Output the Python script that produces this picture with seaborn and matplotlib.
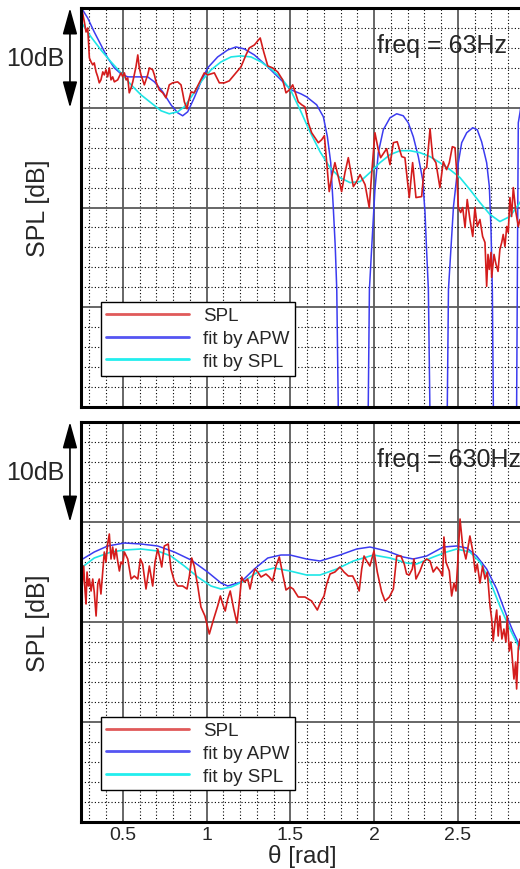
import matplotlib
matplotlib.use("Agg")
import matplotlib.pyplot as plt
from matplotlib.lines import Line2D
from matplotlib.ticker import MultipleLocator, FixedLocator, FixedFormatter
import seaborn as sns
import pandas as pd

# ---------------- data ----------------
xtick_values = [0.5, 1.0, 1.5, 2.0, 2.5]
xtick_labels = ["0.5", "1", "1.5", "2", "2.5"]
legend_labels = ["SPL", "fit by APW", "fit by SPL"]
panel_titles = ["freq = 63Hz", "freq = 630Hz"]

# 63 Hz : measured SPL
theta_spl_63 = [0.25, 0.256, 0.270, 0.280, 0.290, 0.300, 0.310, 0.320, 0.329, 0.340, 0.350, 0.359, 0.369, 0.380,
                0.389, 0.399, 0.409, 0.419, 0.429, 0.439, 0.449, 0.469, 0.489, 0.499, 0.509, 0.519, 0.529,
                0.538, 0.549, 0.559, 0.568, 0.578, 0.589, 0.598, 0.608, 0.618, 0.628, 0.638, 0.648, 0.658,
                0.678, 0.688, 0.698, 0.717, 0.738, 0.757, 0.777, 0.797, 0.827, 0.847, 0.857, 0.867, 0.883,
                0.891, 0.907, 0.926, 0.956, 0.986, 1.006, 1.046, 1.076, 1.106, 1.135, 1.175, 1.205, 1.235,
                1.255, 1.285, 1.320, 1.341, 1.365, 1.394, 1.424, 1.454, 1.474, 1.494, 1.514, 1.534, 1.547,
                1.568, 1.587, 1.607, 1.627, 1.647, 1.667, 1.687, 1.703, 1.717, 1.732, 1.747, 1.766, 1.786,
                1.806, 1.826, 1.846, 1.876, 1.896, 1.916, 1.946, 1.971, 1.986, 2.005, 2.025, 2.039, 2.059,
                2.075, 2.095, 2.115, 2.138, 2.165, 2.184, 2.210, 2.230, 2.250, 2.284, 2.298, 2.314, 2.334,
                2.350, 2.369, 2.393, 2.413, 2.433, 2.449, 2.467, 2.483, 2.493, 2.503, 2.517, 2.529, 2.543,
                2.556, 2.572, 2.589, 2.602, 2.616, 2.632, 2.648, 2.662, 2.672, 2.680, 2.688, 2.698, 2.702,
                2.716, 2.728, 2.740, 2.751, 2.762, 2.771, 2.781, 2.792, 2.801, 2.811, 2.821, 2.831, 2.847,
                2.861, 2.871, 2.90]
spl_63 = [40.5, 39.8, 38.6, 37.6, 38.0, 35.0, 34.6, 34.3, 34.5, 33.6, 33.1, 32.5, 32.8, 33.6,
          33.3, 33.8, 33.1, 34.0, 32.8, 33.1, 32.6, 32.8, 33.5, 33.1, 33.5, 32.8, 33.0,
          31.5, 32.0, 32.6, 33.3, 34.1, 35.3, 34.0, 33.3, 32.8, 32.3, 32.8, 33.3, 34.0,
          33.8, 33.3, 32.6, 31.8, 31.5, 31.0, 32.3, 32.5, 32.6, 32.3, 31.5, 30.6, 29.9,
          30.6, 31.6, 31.5, 32.5, 33.5, 33.3, 33.5, 32.5, 32.5, 32.7, 33.5, 34.1, 35.3,
          36.0, 36.3, 37.0, 35.6, 34.2, 34.0, 33.6, 32.8, 31.5, 31.8, 32.3, 31.3, 30.6,
          30.3, 30.1, 28.5, 27.5, 27.0, 26.5, 26.8, 27.2, 24.5, 21.6, 23.1, 24.5, 23.1,
          21.6, 23.5, 25.0, 22.1, 22.6, 23.3, 22.3, 20.0, 23.5, 27.5, 25.8, 25.0, 25.5,
          25.9, 24.3, 26.5, 26.6, 25.1, 25.0, 21.0, 24.5, 21.0, 21.1, 23.8, 24.0, 27.9,
          25.0, 24.5, 22.0, 24.6, 23.8, 24.5, 26.1, 26.0, 23.6, 20.0, 19.5, 20.0, 18.0,
          20.8, 18.8, 17.1, 20.0, 18.1, 18.8, 17.1, 16.5, 12.1, 15.3, 13.8, 15.5, 13.0,
          15.3, 14.3, 13.6, 15.8, 16.5, 17.3, 16.1, 18.1, 17.5, 21.0, 19.1, 22.0, 19.5,
          18.1, 18.8, 19.0]

# 63 Hz : fit by APW
theta_apw_63 = [0.25, 0.26, 0.29, 0.329, 0.369, 0.409, 0.449, 0.489, 0.529, 0.589, 0.648, 0.688, 0.738, 0.787,
                0.827, 0.857, 0.887, 0.926, 0.966, 1.006, 1.066, 1.126, 1.175, 1.225, 1.285, 1.365, 1.444,
                1.504, 1.563, 1.597, 1.657, 1.697, 1.721, 1.741, 1.756, 1.768, 1.777, 1.786, 1.870, 1.965,
                1.972, 1.986, 2.005, 2.025, 2.055, 2.095, 2.135, 2.174, 2.204, 2.234, 2.264, 2.290, 2.304,
                2.314, 2.324, 2.333, 2.385, 2.437, 2.444, 2.474, 2.503, 2.523, 2.553, 2.589, 2.616, 2.642,
                2.672, 2.688, 2.698, 2.706, 2.712, 2.780, 2.851, 2.856, 2.861, 2.871, 2.90]
apw_63 = [41.0, 39.8, 39.0, 37.6, 36.3, 35.0, 34.0, 33.4, 33.1, 33.1, 33.1, 32.6, 31.6, 30.3,
          29.5, 29.2, 29.6, 31.0, 32.6, 34.0, 35.1, 35.8, 36.1, 35.9, 35.3, 34.1, 32.8,
          31.8, 31.4, 31.1, 30.3, 29.1, 27.1, 24.5, 20.1, 16.1, 11.8, 0.0, -60.0, 0.0,
          11.8, 16.1, 21.8, 25.5, 27.8, 29.0, 29.4, 29.2, 28.5, 27.1, 25.1, 22.8, 19.5,
          15.5, 11.8, 0.0, -60.0, 0.0, 11.8, 20.1, 24.5, 26.5, 27.5, 28.0, 27.8, 26.6,
          24.5, 22.1, 17.8, 11.8, 0.0, -60.0, 0.0, 15.0, 28.5, 29.5, 33.0]

# 63 Hz : fit by SPL
theta_fit_63 = [0.25, 0.310, 0.369, 0.429, 0.489, 0.549, 0.608, 0.668, 0.728, 0.777, 0.827, 0.867, 0.917,
                0.966, 1.026, 1.086, 1.146, 1.205, 1.265, 1.325, 1.384, 1.444, 1.501, 1.558, 1.617, 1.677,
                1.737, 1.796, 1.856, 1.916, 1.975, 2.035, 2.095, 2.155, 2.214, 2.274, 2.334, 2.393, 2.453,
                2.513, 2.572, 2.632, 2.692, 2.751, 2.811, 2.871, 2.90]
fit_63 = [38.6, 37.1, 35.8, 34.6, 33.5, 32.3, 31.3, 30.5, 29.7, 29.4, 29.6, 30.1, 31.3,
          32.6, 33.8, 34.6, 35.1, 35.2, 35.1, 34.6, 33.9, 33.0, 31.8, 29.8, 27.6, 25.6,
          24.0, 23.0, 22.5, 22.6, 23.5, 24.5, 25.3, 25.7, 25.7, 25.5, 25.1, 24.5, 23.8,
          23.0, 21.8, 20.5, 19.3, 18.6, 19.1, 20.5, 21.5]

# 630 Hz : measured SPL
theta_spl_630 = [0.25, 0.256, 0.266, 0.274, 0.280, 0.286, 0.294, 0.300, 0.310, 0.320, 0.329, 0.340, 0.350, 0.359,
                 0.369, 0.380, 0.389, 0.399, 0.409, 0.419, 0.429, 0.439, 0.449, 0.459, 0.469, 0.479, 0.489,
                 0.499, 0.509, 0.529, 0.549, 0.568, 0.589, 0.604, 0.618, 0.638, 0.658, 0.678, 0.692, 0.708,
                 0.722, 0.732, 0.747, 0.771, 0.787, 0.807, 0.827, 0.857, 0.883, 0.897, 0.911, 0.926, 0.947,
                 0.966, 0.990, 1.016, 1.042, 1.066, 1.082, 1.096, 1.111, 1.126, 1.141, 1.162, 1.181, 1.195,
                 1.209, 1.225, 1.245, 1.259, 1.275, 1.289, 1.305, 1.325, 1.354, 1.374, 1.394, 1.414, 1.434,
                 1.454, 1.474, 1.498, 1.517, 1.547, 1.587, 1.627, 1.661, 1.681, 1.701, 1.717, 1.737, 1.766,
                 1.796, 1.820, 1.846, 1.872, 1.896, 1.911, 1.926, 1.940, 1.956, 1.975, 1.999, 2.019, 2.045,
                 2.065, 2.091, 2.115, 2.135, 2.160, 2.180, 2.194, 2.210, 2.228, 2.238, 2.250, 2.274, 2.294,
                 2.314, 2.334, 2.353, 2.374, 2.393, 2.409, 2.417, 2.429, 2.449, 2.463, 2.477, 2.489, 2.503,
                 2.513, 2.529, 2.548, 2.562, 2.572, 2.589, 2.604, 2.616, 2.632, 2.648, 2.662, 2.676, 2.692,
                 2.702, 2.711, 2.722, 2.732, 2.741, 2.751, 2.763, 2.775, 2.787, 2.795, 2.807, 2.817, 2.827,
                 2.835, 2.845, 2.851, 2.861, 2.871, 2.90]
spl_630 = [24.0, 23.3, 25.6, 23.1, 21.8, 25.0, 23.6, 24.3, 23.1, 24.3, 23.0, 20.6, 23.8, 24.3,
           22.8, 25.1, 27.0, 26.0, 27.8, 28.8, 26.3, 27.5, 26.3, 27.3, 26.1, 25.1, 26.0,
           25.8, 27.0, 26.3, 24.3, 24.6, 24.3, 26.3, 25.8, 23.3, 25.6, 23.6, 26.0, 27.3,
           26.3, 25.5, 27.6, 27.8, 25.3, 24.1, 23.6, 23.6, 23.3, 24.6, 26.4, 25.6, 23.6,
           21.5, 20.6, 18.8, 20.3, 21.6, 22.6, 21.8, 21.1, 22.3, 23.1, 21.3, 19.9, 22.0,
           24.5, 24.0, 24.3, 23.3, 24.6, 25.3, 25.0, 24.5, 24.8, 24.5, 24.1, 25.6, 26.5,
           24.8, 23.2, 23.5, 23.3, 22.5, 22.5, 22.1, 21.2, 22.0, 22.6, 23.8, 24.8, 25.0,
           25.5, 25.0, 24.6, 24.6, 23.8, 23.1, 25.3, 26.6, 26.1, 25.6, 27.1, 25.0, 23.0,
           22.1, 22.5, 23.3, 26.6, 26.6, 25.8, 24.8, 24.7, 25.3, 26.3, 24.3, 25.1, 26.0,
           26.3, 26.1, 25.0, 25.5, 25.1, 24.6, 28.5, 26.0, 25.1, 22.6, 23.9, 23.1, 27.0,
           30.3, 27.6, 26.3, 27.6, 28.6, 27.1, 25.0, 25.8, 23.9, 25.6, 24.3, 25.0, 21.6,
           20.3, 18.1, 20.0, 21.2, 18.6, 20.6, 18.3, 19.3, 18.0, 20.6, 17.1, 18.0, 16.0,
           14.3, 16.0, 13.3, 17.4, 18.3, 17.0]

# 630 Hz : fit by APW
theta_apw_630 = [0.25, 0.329, 0.409, 0.509, 0.608, 0.708, 0.807, 0.907, 1.006, 1.086, 1.126, 1.205, 1.285,
                 1.365, 1.444, 1.498, 1.597, 1.677, 1.796, 1.896, 1.975, 2.075, 2.174, 2.234, 2.314, 2.413,
                 2.493, 2.553, 2.612, 2.672, 2.732, 2.792, 2.831, 2.871, 2.95]
apw_630 = [26.2, 27.0, 27.6, 27.9, 27.8, 27.6, 27.0, 26.2, 25.0, 23.9, 23.6, 24.0, 25.3,
           26.4, 26.7, 26.7, 26.3, 26.1, 26.7, 27.3, 27.5, 27.1, 26.5, 26.3, 26.6, 27.5,
           27.6, 27.4, 26.6, 25.3, 23.3, 20.6, 19.0, 17.6, 15.0]

# 630 Hz : fit by SPL
theta_fit_630 = [0.25, 0.329, 0.429, 0.509, 0.608, 0.708, 0.787, 0.867, 0.947, 1.026, 1.086, 1.146, 1.225,
                 1.305, 1.404, 1.498, 1.597, 1.677, 1.777, 1.876, 1.996, 2.095, 2.194, 2.254, 2.354, 2.433,
                 2.493, 2.572, 2.632, 2.692, 2.751, 2.811, 2.871, 2.95]
fit_630 = [25.4, 26.4, 27.0, 27.2, 27.3, 27.1, 26.6, 25.6, 24.5, 23.6, 23.3, 23.5, 24.1,
           25.0, 25.4, 25.1, 24.7, 24.7, 25.3, 26.1, 26.7, 26.4, 25.9, 25.8, 26.5, 27.0,
           27.3, 27.0, 26.0, 24.1, 21.6, 19.3, 17.3, 14.5]

# ---------------- style ----------------
sns.set_style("white")
plt.rcParams['font.family'] = ['Liberation Sans', 'DejaVu Sans']

RED = '#d41c1c'
BLUE = '#3c3cf0'
CYAN = '#1ee6e6'

fig = plt.figure(figsize=(5.2, 8.7), dpi=100)
ax_top = fig.add_axes([0.1558, 0.5310, 0.8857, 0.4586])
ax_bot = fig.add_axes([0.1558, 0.0540, 0.8857, 0.4598])

panels = [
    (ax_top, theta_spl_63, spl_63, theta_apw_63, apw_63, theta_fit_63, fit_63, panel_titles[0]),
    (ax_bot, theta_spl_630, spl_630, theta_apw_630, apw_630, theta_fit_630, fit_630, panel_titles[1]),
]

for i, (ax, ts, vs, ta, va, tf, vf, title) in enumerate(panels):
    df_a = pd.DataFrame({'theta': ta, 'dB': va})
    df_f = pd.DataFrame({'theta': tf, 'dB': vf})
    df_s = pd.DataFrame({'theta': ts, 'dB': vs})
    sns.lineplot(data=df_a, x='theta', y='dB', ax=ax, color=BLUE, lw=1.1, sort=False, estimator=None)
    sns.lineplot(data=df_f, x='theta', y='dB', ax=ax, color=CYAN, lw=1.2, sort=False, estimator=None)
    sns.lineplot(data=df_s, x='theta', y='dB', ax=ax, color=RED, lw=1.2, sort=False, estimator=None)

    ax.set_xlim(0.25, 3.0)
    ax.set_ylim(0, 40)
    ax.xaxis.set_major_locator(FixedLocator(xtick_values))
    ax.xaxis.set_minor_locator(MultipleLocator(0.1))
    ax.yaxis.set_major_locator(MultipleLocator(10))
    ax.yaxis.set_minor_locator(MultipleLocator(2))
    ax.set_axisbelow(True)
    ax.grid(which='major', color='#5a5a5a', lw=1.3, ls='-')
    ax.grid(which='minor', color='black', lw=0.8, ls=(0, (1, 2)))
    ax.tick_params(which='major', direction='in', length=9, width=2.2, color='black',
                   labelsize=14, pad=3, top=False, right=False)
    ax.tick_params(which='minor', direction='in', length=5, width=1.0, color='black',
                   top=False, right=False)
    ax.set_yticklabels([])
    for side in ['left', 'bottom', 'top']:
        ax.spines[side].set_color('black')
        ax.spines[side].set_linewidth(2.2)
    ax.spines['right'].set_visible(False)

    if i == 0:
        ax.set_xticklabels([])
    else:
        ax.xaxis.set_major_formatter(FixedFormatter(xtick_labels))
    ax.set_xlabel('θ [rad]' if i == 1 else '', fontsize=17.5)
    ax.xaxis.set_label_coords(0.48, -0.055)

    ax.set_ylabel('SPL [dB]', fontsize=18)
    ax.yaxis.set_label_coords(-0.068, 0.5)

    ax.text(0.643, 0.907, title, transform=ax.transAxes, fontsize=18, ha='left', va='center')

    trans = ax.get_yaxis_transform()
    ax.text(-0.036, 35, '10dB', transform=trans, fontsize=18, ha='right', va='center', clip_on=False)
    ax.annotate('', xy=(-0.024, 40), xytext=(-0.024, 30), xycoords=trans, textcoords=trans,
                arrowprops=dict(arrowstyle='<|-|>,head_length=0.9,head_width=0.25', color='black',
                                lw=1.2, mutation_scale=18, shrinkA=0, shrinkB=0),
                annotation_clip=False)

    handles = [Line2D([], [], color='#e05a5a', lw=2.0),
               Line2D([], [], color='#5555f2', lw=2.0),
               Line2D([], [], color='#22eeee', lw=2.0)]
    leg = ax.legend(handles, legend_labels, loc='lower left', bbox_to_anchor=(0.043, 0.079),
                    borderaxespad=0, fontsize=13.5, handlelength=4.4, handletextpad=0.75,
                    labelspacing=0.3, borderpad=0.3, fancybox=False, framealpha=1,
                    edgecolor='black')
    leg.get_frame().set_linewidth(1.0)

fig.savefig('out.png', dpi=100)
